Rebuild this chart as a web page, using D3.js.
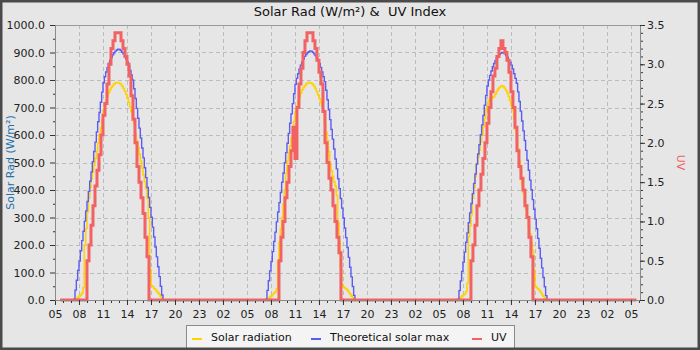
<!DOCTYPE html>
<html>
<head>
<meta charset="utf-8">
<script src="https://cdn.jsdelivr.net/npm/d3@7/dist/d3.min.js"></script>
<style>
  body { margin: 0; background: #fff; }
  svg { display: block; font-family: "DejaVu Sans", sans-serif; }
</style>
</head>
<body>
<div id="chart"></div>
<script>
// days shown and how the daytime readings are sampled
const days = ["2024-05-01", "2024-05-02", "2024-05-03"];
const solarFirst = "07:20";   // first daytime sample of both solar series
const solarStep = 10;         // minutes
const uvFirst = "09:00";      // first daytime sample of UV
const uvStep = 15;
const dataStart = "2024-05-01 05:40";
const dataEnd = "2024-05-04 05:40";

// Solar radiation, W/m², one list per day (07:20 .. 18:30)
const solarRad = [
  [0,3,6,10,14,18,25,45,200,260,320,370,410,440,465,490,515,540,570,600,625,655,690,710,725,740,755,765,773,780,786,789,791,790,
   788,784,778,770,760,748,735,718,702,685,665,640,605,580,555,530,505,480,455,430,405,370,300,110,52,48,42,38,32,26,20,12,5,0],
  [0,3,7,11,15,20,25,30,40,140,210,260,300,350,400,460,505,535,560,590,620,650,685,705,722,738,752,764,772,779,785,789,791,790,
   788,784,777,769,758,746,733,718,705,690,645,610,580,540,495,470,450,430,415,380,280,210,120,55,48,44,40,35,28,22,15,9,4,0],
  [0,5,10,14,18,22,30,60,230,270,310,370,410,450,495,520,545,575,600,630,660,690,705,725,735,738,736,740,748,758,767,773,777,779,
   776,770,762,752,740,725,708,690,660,620,590,550,505,470,420,390,355,330,305,270,240,210,180,105,50,45,40,35,28,20,14,8,3,0]
];

// Theoretical solar max, W/m² (07:20 .. 18:30)
const solarMax = [
  [3,36,72,108,142,179,216,250,287,324,358,395,432,466,503,540,574,611,648,682,719,756,790,812,829,845,860,872,882,892,899,905,909,912,
   911,907,901,895,886,876,866,852,835,818,800,768,733,697,661,625,589,553,517,481,445,409,373,337,301,265,229,193,157,121,85,50,18,0],
  [3,35,70,106,140,176,213,247,284,320,354,391,428,462,499,536,570,606,643,677,714,750,784,806,823,839,854,866,876,886,893,899,903,906,
   905,901,895,889,880,870,860,846,829,812,794,763,728,692,656,620,585,549,513,477,441,405,369,334,298,262,227,191,155,119,84,49,17,0],
  [3,34,69,104,138,174,210,244,281,317,351,387,424,458,494,531,565,601,637,671,708,744,778,800,817,833,848,860,870,880,887,893,897,900,
   899,895,889,883,874,864,854,840,823,806,788,757,722,687,651,615,580,544,508,472,436,401,365,330,294,259,224,188,152,117,82,48,16,0]
];

// UV index (09:00 .. 16:45)
const uvIndex = [
  [0.5,0.7,0.95,1.2,1.45,1.65,1.85,2.1,2.35,2.5,2.75,3.0,3.2,3.3,3.4,3.4,3.4,3.3,3.2,3.1,3.0,2.85,2.6,2.3,2.0,1.7,1.5,1.3,1.1,0.8,0.55,0],
  [0.5,0.8,1.0,1.3,1.5,1.7,1.9,2.2,1.8,2.45,2.75,2.95,3.15,3.3,3.4,3.4,3.4,3.3,3.2,3.05,2.9,2.75,2.4,2.0,1.75,1.55,1.4,1.2,1.0,0.8,0.6,0],
  [0.5,0.7,0.95,1.2,1.4,1.6,1.8,2.0,2.25,2.45,2.65,2.85,2.95,3.1,3.2,3.3,3.2,3.15,3.05,2.9,2.65,2.45,2.2,1.9,1.7,1.55,1.4,1.2,1.05,0.8,0.55,0]
];

// axis ticks
const leftTicks = [0,100,200,300,400,500,600,700,800,900,1000];
const rightTicks = [0,0.5,1,1.5,2,2.5,3,3.5];
const xFrom = "2024-05-01 05:00";
const xTo = "2024-05-04 06:08";

const legendItems = ["Solar radiation", "Theoretical solar max", "UV"];
const colors = ["#ffd200", "#5c5cf2", "#f26262"];

const width = 700, height = 350;
const margin = {top: 25, right: 60, bottom: 50, left: 55};

const parse = d3.timeParse("%Y-%m-%d %H:%M");

function buildSeries(perDay, first, step) {
  const pts = [{t: parse(dataStart), v: 0}];
  days.forEach((day, i) => {
    const t0 = parse(day + " " + first);
    perDay[i].forEach((v, j) => pts.push({t: d3.timeMinute.offset(t0, j * step), v: v}));
  });
  pts.push({t: parse(dataEnd), v: 0});
  return pts;
}

const svg = d3.select("#chart").append("svg")
  .attr("width", width)
  .attr("height", height);

// background
svg.append("rect").attr("width", width).attr("height", height).attr("fill", "#e6e6e6");

const x = d3.scaleTime()
  .domain([parse(xFrom), parse(xTo)])
  .range([margin.left, width - margin.right]);
const yL = d3.scaleLinear().domain([0, 1000]).range([height - margin.bottom, margin.top]);
const yR = d3.scaleLinear().domain([0, 3.5]).range([height - margin.bottom, margin.top]);

const xMajor = d3.timeHour.range(parse(xFrom), parse("2024-05-04 06:00"), 3);
const xMinor = d3.timeHour.range(parse(xFrom), parse("2024-05-04 06:01"));

// grid
const grid = svg.append("g")
  .attr("stroke", "#bcbcbc")
  .attr("stroke-dasharray", "4,3");
grid.selectAll(".vg").data(xMajor).enter().append("line")
  .attr("x1", (d) => Math.round(x(d)) + 0.5).attr("x2", (d) => Math.round(x(d)) + 0.5)
  .attr("y1", margin.top).attr("y2", height - margin.bottom);
grid.selectAll(".hg").data(leftTicks.slice(1, -1)).enter().append("line")
  .attr("x1", margin.left).attr("x2", width - margin.right)
  .attr("y1", (d) => Math.round(yL(d)) + 0.5).attr("y2", (d) => Math.round(yL(d)) + 0.5);

// top border
svg.append("line")
  .attr("x1", margin.left).attr("x2", width - margin.right)
  .attr("y1", margin.top + 0.5).attr("y2", margin.top + 0.5)
  .attr("stroke", "#9a9a9a");

// lines
const series = [
  {data: buildSeries(solarRad, solarFirst, solarStep), y: yL, w: 1.6},
  {data: buildSeries(solarMax, solarFirst, solarStep), y: yL, w: 1.4},
  {data: buildSeries(uvIndex, uvFirst, uvStep), y: yR, w: 3}
];
series.forEach((s, i) => {
  const line = d3.line()
    .x((d) => x(d.t))
    .y((d) => s.y(d.v))
    .curve(d3.curveStepAfter);
  svg.append("path")
    .datum(s.data)
    .attr("d", line)
    .attr("fill", "none")
    .attr("stroke", colors[i])
    .attr("stroke-width", s.w);
});

function styleAxis(g) {
  g.attr("font-family", "DejaVu Sans, sans-serif").attr("font-size", "11px");
  g.select(".domain").attr("stroke", "#8a8a8a");
  g.selectAll(".tick line").attr("stroke", "#333");
  g.selectAll(".tick text").attr("fill", "#222");
}

// x axis
svg.append("g")
  .attr("transform", `translate(0,${height - margin.bottom})`)
  .call(d3.axisBottom(x).tickValues(xMinor).tickFormat("").tickSize(3).tickSizeOuter(0))
  .call(styleAxis);
svg.append("g")
  .attr("transform", `translate(0,${height - margin.bottom})`)
  .call(d3.axisBottom(x).tickValues(xMajor).tickFormat(d3.timeFormat("%H")).tickSize(5).tickPadding(5).tickSizeOuter(0))
  .call(styleAxis);

// left axis
svg.append("g")
  .attr("transform", `translate(${margin.left},0)`)
  .call(d3.axisLeft(yL).tickValues(d3.range(50, 1000, 100)).tickFormat("").tickSize(2).tickSizeOuter(0))
  .call(styleAxis);
svg.append("g")
  .attr("transform", `translate(${margin.left},0)`)
  .call(d3.axisLeft(yL).tickValues(leftTicks).tickFormat(d3.format(".1f")).tickSize(5).tickPadding(5).tickSizeOuter(0))
  .call(styleAxis);

// right axis
svg.append("g")
  .attr("transform", `translate(${width - margin.right},0)`)
  .call(d3.axisRight(yR).tickValues(d3.range(0, 36).map((d) => d / 10)).tickFormat("").tickSize(3).tickSizeOuter(0))
  .call(styleAxis);
svg.append("g")
  .attr("transform", `translate(${width - margin.right},0)`)
  .call(d3.axisRight(yR).tickValues(rightTicks).tickFormat(d3.format(".1f")).tickSize(5).tickPadding(2).tickSizeOuter(0))
  .call(styleAxis);

// axis titles
svg.append("text")
  .attr("transform", `translate(14,${(margin.top + height - margin.bottom) / 2}) rotate(-90)`)
  .attr("text-anchor", "middle")
  .attr("font-size", "11px")
  .attr("fill", "#2470a8")
  .text("Solar Rad (W/m²)");
svg.append("text")
  .attr("transform", `translate(677,${(margin.top + height - margin.bottom) / 2}) rotate(90)`)
  .attr("text-anchor", "middle")
  .attr("font-size", "11px")
  .attr("fill", colors[2])
  .text("UV");

// title (two spaces kept before UV)
svg.append("text")
  .attr("x", width / 2)
  .attr("y", 16)
  .attr("text-anchor", "middle")
  .attr("font-size", "13px")
  .attr("fill", "#111")
  .style("white-space", "pre")
  .text("Solar Rad (W/m²) &  UV Index");

// legend
const lg = svg.append("g");
lg.append("rect")
  .attr("x", 186.5).attr("y", 325.5)
  .attr("width", 328).attr("height", 30)
  .attr("fill", "#f4f4f4").attr("stroke", "#8a8a8a");
const legendX = [191, 310, 471];
legendItems.forEach((name, i) => {
  lg.append("line")
    .attr("x1", legendX[i] + 1).attr("x2", legendX[i] + 11)
    .attr("y1", 339).attr("y2", 339)
    .attr("stroke", colors[i]).attr("stroke-width", 2);
  lg.append("text")
    .attr("x", legendX[i] + 20).attr("y", 340.5)
    .attr("font-size", "11px")
    .attr("fill", "#111")
    .text(name);
});

// outer frame
svg.append("rect")
  .attr("x", 1.25).attr("y", 1.25)
  .attr("width", width - 2.5).attr("height", height - 2.5)
  .attr("fill", "none").attr("stroke", "#4a4a4a").attr("stroke-width", 2.5);
</script>
</body>
</html>
